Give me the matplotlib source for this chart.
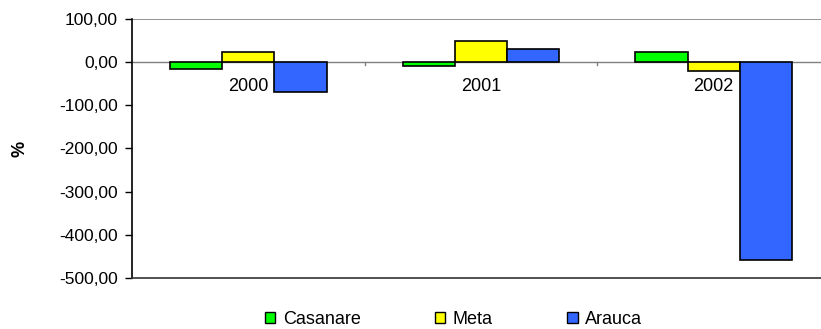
import matplotlib.pyplot as plt
import numpy as np
from matplotlib.patches import Patch

plt.rcParams["font.family"] = ["Liberation Sans", "DejaVu Sans"]

years = ["2000", "2001", "2002"]
series = ["Casanare", "Meta", "Arauca"]
casanare = [-15.0, -8.0, 22.5]
meta = [22.5, 49.0, -19.5]
arauca = [-68.0, 30.0, -459.0]
yticks = [100, 0, -100, -200, -300, -400, -500]

colors = ["#00ff00", "#ffff00", "#3366ff"]

fig = plt.figure(figsize=(8.21, 3.29), dpi=100)
# plot area runs slightly past the right edge of the canvas
ax = fig.add_axes([132 / 821, 1 - 278 / 329, 698 / 821, 259 / 329])

x = np.arange(len(years))
w = 0.224
for i, (vals, c) in enumerate(zip([casanare, meta, arauca], colors)):
    ax.bar(x + (i - 1) * w, vals, width=w, color=c, edgecolor="black",
           linewidth=1.2, zorder=3)

ax.set_xlim(-0.5, 2.5)
ax.set_ylim(-500, 100)
ax.set_yticks(yticks)
ax.set_yticklabels([f"{v:.2f}".replace(".", ",") for v in yticks], fontsize=12.5)
ax.tick_params(axis="y", length=5, width=1, pad=5)

# zero line with category boundary ticks and year labels beneath it
ax.axhline(0, color="#808080", lw=1, zorder=2)
ax.axhline(100, color="#808080", lw=1.2, zorder=2)
for b in [0.5, 1.5]:
    ax.plot([b, b], [0, -6], color="#808080", lw=1, zorder=2)
ax.set_xticks([])
for xi, yr in zip(x, years):
    ax.text(xi, -57, yr, ha="center", va="center", fontsize=13, zorder=2)

for side in ["top", "right"]:
    ax.spines[side].set_visible(False)
ax.spines["left"].set_linewidth(1.2)
ax.spines["bottom"].set_linewidth(1.2)
ax.spines["bottom"].set_color("#333333")

ax.set_ylabel("%", fontsize=13, fontweight="bold")
ax.yaxis.set_label_coords(-0.148, 0.5)

handles = [Patch(facecolor=c, edgecolor="black", linewidth=1) for c in colors]
fig.legend(handles, series, loc="center", ncol=3, frameon=False,
           bbox_to_anchor=(0.552, 0.03), fontsize=13,
           handlelength=0.6, handleheight=0.6, handletextpad=0.4,
           columnspacing=4.1)

fig.savefig("out.png", dpi=100)
